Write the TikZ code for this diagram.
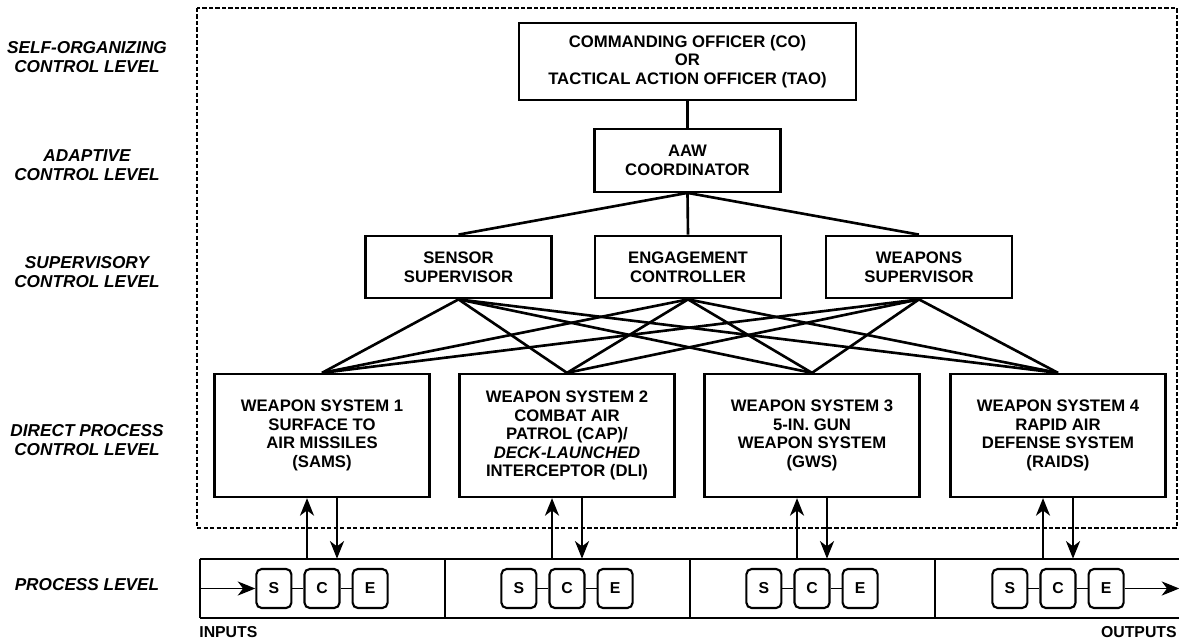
\documentclass[tikz,border=0pt]{standalone}
\usepackage{fontspec}
\setmainfont{Liberation Sans}
\usetikzlibrary{arrows.meta, positioning}

\begin{document}
\begin{tikzpicture}[
    x=0.02cm, y=-0.02cm,
    >={Stealth[length=10pt, width=8pt, inset=3pt]},
    node distance=0.22cm,
    topbox/.style={
        draw, line width=1.3pt,
        minimum width=6.74cm, minimum height=1.54cm,
        font=\fontsize{9.5}{10.6}\selectfont\bfseries, align=center
    },
    midbox/.style={
        draw, line width=1.3pt,
        minimum width=3.72cm, minimum height=1.25cm,
        font=\fontsize{9.5}{10.6}\selectfont\bfseries, align=center
    },
    wsbox/.style={
        draw, line width=1.3pt,
        minimum width=4.3cm, minimum height=2.46cm,
        font=\fontsize{9.5}{10.5}\selectfont\bfseries, align=center
    },
    procbox/.style={
        draw, line width=1.2pt, rounded corners=3pt, inner sep=0pt,
        minimum width=0.7cm, minimum height=0.78cm,
        font=\fontsize{9}{10}\selectfont\bfseries
    },
    segment/.style={minimum width=4.9cm, minimum height=1.18cm, inner sep=0pt},
    level/.style={font=\fontsize{9.8}{10.8}\selectfont\bfseries\itshape, align=center},
    iolabel/.style={font=\fontsize{9}{10}\selectfont\bfseries, inner sep=0pt},
    link/.style={line width=1.5pt},
    chain/.style={line width=1.1pt},
    flow/.style={->, line width=1.1pt},
    frame/.style={line width=0.7pt, dash pattern=on 2.5pt off 1.2pt}
]
\useasboundingbox (0,0) rectangle (1179,638);

% === Control levels (left column) ===
\node[level] (lself) at (87,57.5) {SELF-ORGANIZING\\CONTROL LEVEL};
\node[level] (ladapt) at (87,165) {ADAPTIVE\\CONTROL LEVEL};
\node[level] (lsuper) at (87,272.5) {SUPERVISORY\\CONTROL LEVEL};
\node[level] (ldirect) at (87,440.5) {DIRECT PROCESS\\CONTROL LEVEL};
\node[level] (lproc) at (87,585) {PROCESS LEVEL};

% Dashed boundary of the control hierarchy
\draw[frame] (197,8) rectangle (1177,528);

% === Command chain ===
\node[topbox] (co) at (687.5,61.5) {
    COMMANDING OFFICER (CO)\\
    OR\\
    TACTICAL ACTION OFFICER (TAO)
};
\node[midbox] (aaw) at (687.5,160.5) {AAW\\COORDINATOR};

% Supervisors
\node[midbox] (sensor) at (458.5,267) {SENSOR\\SUPERVISOR};
\node[midbox] (engage) at (688,267) {ENGAGEMENT\\CONTROLLER};
\node[midbox] (weapons) at (919,267) {WEAPONS\\SUPERVISOR};

% Weapon systems
\node[wsbox] (ws1) at (322,435.5) {
    WEAPON SYSTEM 1\\
    SURFACE TO\\
    AIR MISSILES\\
    (SAMS)
};
\node[wsbox] (ws2) at (567,435.5) {
    WEAPON SYSTEM 2\\
    COMBAT AIR\\
    PATROL (CAP)/\\
    {\itshape DECK-LAUNCHED}\\
    INTERCEPTOR (DLI)
};
\node[wsbox] (ws3) at (812,435.5) {
    WEAPON SYSTEM 3\\
    5-IN. GUN\\
    WEAPON SYSTEM\\
    (GWS)
};
\node[wsbox] (ws4) at (1058,435.5) {
    WEAPON SYSTEM 4\\
    RAPID AIR\\
    DEFENSE SYSTEM\\
    (RAIDS)
};

% === Process level strip ===
\node[segment] (seg1) at (322.5,588.5) {};
\node[segment] (seg2) at (567.5,588.5) {};
\node[segment] (seg3) at (812.5,588.5) {};
\node[segment, minimum width=4.88cm] (seg4) at (1057,588.5) {};

\draw[chain] (seg1.north west) -- (seg4.north east);
\draw[chain] (seg1.south west) -- (seg4.south east);
\draw[chain] (seg1.north west) -- (seg1.south west);
\draw[chain] (seg2.north west) -- (seg2.south west);
\draw[chain] (seg3.north west) -- (seg3.south west);
\draw[chain] (seg4.north west) -- (seg4.south west);

% Sensor - controller - effector groups
\node[procbox] (c1) at (ws1 |- seg1) {C};
\node[procbox, left=of c1] (s1) {S};
\node[procbox, right=of c1] (e1) {E};
\node[procbox] (c2) at (ws2 |- seg2) {C};
\node[procbox, left=of c2] (s2) {S};
\node[procbox, right=of c2] (e2) {E};
\node[procbox] (c3) at (ws3 |- seg3) {C};
\node[procbox, left=of c3] (s3) {S};
\node[procbox, right=of c3] (e3) {E};
\node[procbox] (c4) at (ws4 |- seg4) {C};
\node[procbox, left=of c4] (s4) {S};
\node[procbox, right=of c4] (e4) {E};

\draw[chain] (s1) -- (c1) -- (e1);
\draw[chain] (s2) -- (c2) -- (e2);
\draw[chain] (s3) -- (c3) -- (e3);
\draw[chain] (s4) -- (c4) -- (e4);

\node[iolabel, anchor=base west] (inputs) at (199,637) {INPUTS};
\node[iolabel, anchor=base east] (outputs) at (1177,637) {OUTPUTS};

% === Connectors ===
\draw[link] (co) -- (aaw);
\draw[link] (aaw.south) -- (sensor.north);
\draw[link] (aaw.south) -- (engage.north);
\draw[link] (aaw.south) -- (weapons.north);

% Every supervisor reaches every weapon system
\draw[link] (sensor.south) -- (ws1.north);
\draw[link] (sensor.south) -- (ws2.north);
\draw[link] (sensor.south) -- (ws3.north);
\draw[link] (sensor.south) -- (ws4.north);
\draw[link] (engage.south) -- (ws1.north);
\draw[link] (engage.south) -- (ws2.north);
\draw[link] (engage.south) -- (ws3.north);
\draw[link] (engage.south) -- (ws4.north);
\draw[link] (weapons.south) -- (ws1.north);
\draw[link] (weapons.south) -- (ws2.north);
\draw[link] (weapons.south) -- (ws3.north);
\draw[link] (weapons.south) -- (ws4.north);

% Feedback up, commands down
\draw[flow] ([xshift=-0.3cm]ws1.south |- seg1.north) -- ([xshift=-0.3cm]ws1.south);
\draw[flow] ([xshift=0.3cm]ws1.south) -- ([xshift=0.3cm]ws1.south |- seg1.north);
\draw[flow] ([xshift=-0.3cm]ws2.south |- seg2.north) -- ([xshift=-0.3cm]ws2.south);
\draw[flow] ([xshift=0.3cm]ws2.south) -- ([xshift=0.3cm]ws2.south |- seg2.north);
\draw[flow] ([xshift=-0.3cm]ws3.south |- seg3.north) -- ([xshift=-0.3cm]ws3.south);
\draw[flow] ([xshift=0.3cm]ws3.south) -- ([xshift=0.3cm]ws3.south |- seg3.north);
\draw[flow] ([xshift=-0.3cm]ws4.south |- seg4.north) -- ([xshift=-0.3cm]ws4.south);
\draw[flow] ([xshift=0.3cm]ws4.south) -- ([xshift=0.3cm]ws4.south |- seg4.north);

% Inputs and outputs of the process
\draw[flow] (seg1.west) -- (s1);
\draw[flow] (e4) -- (seg4.east);

\end{tikzpicture}
\end{document}
